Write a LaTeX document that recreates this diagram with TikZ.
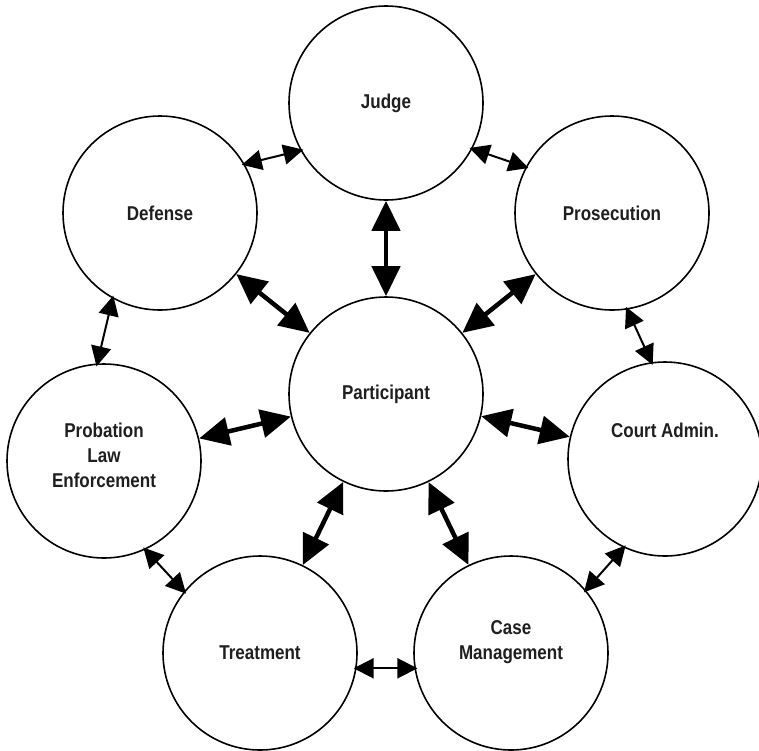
\documentclass[tikz,border=0pt]{standalone}
\usepackage{fontspec}
\setmainfont{Liberation Sans}[FakeStretch=0.85]
\usetikzlibrary{arrows.meta,calc}
\begin{document}
\begin{tikzpicture}[x=1pt,y=-1pt,
  circ/.style={draw=black,line width=1.6pt,circle,minimum size=194pt,inner sep=0pt},
  lbl/.style={font=\fontsize{20}{25}\selectfont\bfseries,align=center,text=black!88},
  bigarr/.style={line width=4.5pt,{Triangle[length=30pt,width=28pt]}-{Triangle[length=30pt,width=28pt]}},
  smallarr/.style={line width=2pt,shorten <=-3pt,shorten >=-3pt,{Triangle[length=20pt,width=20pt]}-{Triangle[length=20pt,width=20pt]}}]
\useasboundingbox (0,0) rectangle (759,750);
\fill[white] (0,0) rectangle (759,750);
% circles
\node[circ] (judge) at (386,103) {};
\node[circ] (defense) at (160,213) {};
\node[circ] (prosecution) at (612,213) {};
\node[circ] (participant) at (386,394) {};
\node[circ] (probation) at (104,461) {};
\node[circ] (court) at (665,459) {};
\node[circ] (treatment) at (260,653) {};
\node[circ] (casem) at (511,653) {};
% labels
\node[lbl] (judgeT) at (judge) {Judge};
\node[lbl] (defenseT) at (defense) {Defense};
\node[lbl] (prosecutionT) at (prosecution) {Prosecution};
\node[lbl] (participantT) at (participant) {Participant};
\node[lbl] (probationT) at ($(probation)+(0,-6)$) {Probation\\Law\\Enforcement};
\node[lbl] (courtT) at ($(court)+(0,-29)$) {Court Admin.};
\node[lbl] (treatmentT) at (treatment) {Treatment};
\node[lbl] (casemT) at ($(casem)+(0,-11)$) {Case\\Management};
% thick connectors
\draw[bigarr] (judge) -- (participant);
\draw[bigarr] (defense) -- (participant);
\draw[bigarr] (prosecution) -- (participant);
\draw[bigarr] (probation) -- (participant);
\draw[bigarr] (participant) -- (court);
\draw[bigarr] (participant) -- (treatment);
\draw[bigarr] (participant) -- (casem);
% thin connectors
\draw[smallarr] (defense.30) -- (judge.209);
\draw[smallarr] (judge.-28) -- (prosecution.152);
\draw[smallarr] (defense.241) -- (probation.94);
\draw[smallarr] (prosecution.279) -- (court.98);
\draw[smallarr] (court.245) -- (casem.40);
\draw[smallarr] (treatment.-9) -- (casem.189);
\draw[smallarr] (probation.-65) -- (treatment.141);
\end{tikzpicture}
\end{document}
